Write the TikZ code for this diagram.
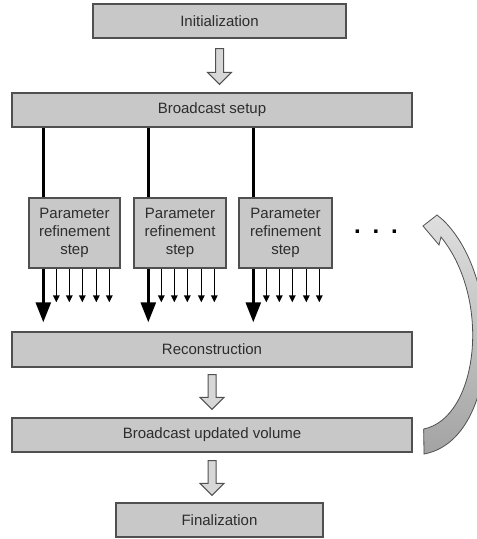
\documentclass[tikz,border=0pt]{standalone}
\usepackage{fontspec}
\setmainfont{Liberation Sans}
\usetikzlibrary{arrows.meta,calc}
\definecolor{boxfill}{RGB}{200,200,200}
\definecolor{boxline}{RGB}{80,80,80}
\definecolor{txt}{RGB}{45,45,45}
\definecolor{hollowfill}{RGB}{215,215,215}
\newcommand{\hollowarrow}[2]{%
  \path let \p1=(#1), \p2=(#2) in
    [draw=boxline, line width=1pt, fill=hollowfill, line join=miter]
    (\x1-4pt,\y1) -- (\x1+4pt,\y1) -- (\x1+4pt,\y2+12pt) -- (\x1+12pt,\y2+12pt)
    -- (\x1,\y2) -- (\x1-12pt,\y2+12pt) -- (\x1-4pt,\y2+12pt) -- cycle;}
\begin{document}
\begin{tikzpicture}[x=1pt,y=-1pt,
  box/.style={draw=boxline, line width=1.4pt, fill=boxfill, text=txt,
    font=\fontsize{15}{18}\selectfont, inner sep=0pt, align=center},
  wide/.style={box, minimum width=400pt, minimum height=34pt},
  parbox/.style={box, minimum height=70pt},
  feed/.style={line width=2.6pt, black},
  bigarrow/.style={line width=2.6pt, black, -{Triangle[length=20pt,width=15pt]}, shorten >=9pt},
  smallarrow/.style={line width=1.4pt, black, -{Triangle[length=7pt,width=6.5pt]}, shorten >=29pt}]
\useasboundingbox (0,0) rectangle (477,539);
\begin{scope}
\clip (0,0) rectangle (477,539);

\node[box, minimum width=253pt, minimum height=34pt] (init) at (219.5,21) {Initialization};
\node[wide] (setup) at (212,110) {Broadcast setup};
\node[parbox, minimum width=91pt] (p1) at (74.5,233) {Parameter\\refinement\\step};
\node[parbox, minimum width=92pt] (p2) at (180,233) {Parameter\\refinement\\step};
\node[parbox, minimum width=93pt] (p3) at (285.5,233) {Parameter\\refinement\\step};
\node[text=black, font=\fontsize{24}{24}\bfseries] (dots) at (376,232) {.\hspace{11.8pt}.\hspace{11.8pt}.};
\node[wide, minimum height=35pt] (recon) at (212,349.5) {Reconstruction};
\node[wide] (bcast) at (212,435) {Broadcast updated volume};
\node[box, minimum width=207pt, minimum height=34pt] (final) at (219.5,520) {Finalization};

\hollowarrow{$(init.south)+(0,10)$}{$(setup.north)+(0,-8)$}
\hollowarrow{$(recon.south)+(0,7)$}{$(bcast.north)+(0,-8)$}
\hollowarrow{$(bcast.south)+(0,8)$}{$(final.north)+(0,-7)$}

\foreach \p in {p1,p2,p3}{
  \coordinate (m\p) at ([xshift=15pt]\p.south west);
  \draw[feed] (m\p |- setup.south) -- (m\p |- \p.north);
  \draw[bigarrow] (m\p) -- (m\p |- recon.north);
  \foreach \dx in {13,26,39,53,66}{
    \draw[smallarrow] ($(m\p)+(\dx,0)$) -- ($(m\p |- recon.north)+(\dx,0)$);
  }
}

\coordinate (loopstart) at ([xshift=11pt]bcast.east);
\shadedraw[draw=boxline, line width=0.8pt, top color=gray!25, bottom color=gray!72]
  (loopstart |- 0,429) .. controls (478,418) and (492,300) .. (441,237)
  -- (439,245) -- (423,226) -- (437,215) -- (443,220)
  .. controls (505,280) and (500,440) .. (424,454) -- cycle;
\end{scope}
\end{tikzpicture}
\end{document}
